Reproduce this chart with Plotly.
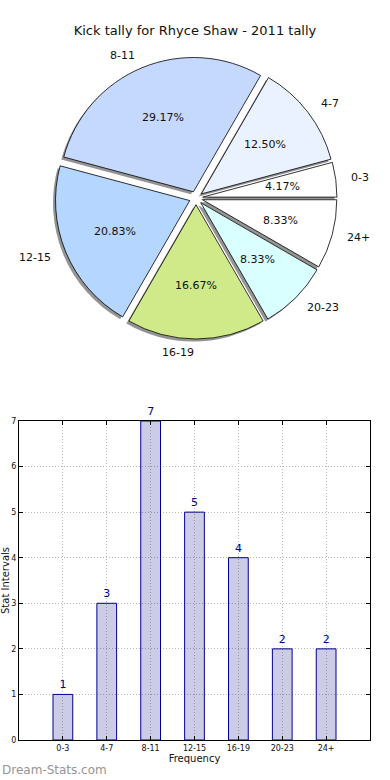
import math
import plotly.graph_objects as go

categories = ["0-3", "4-7", "8-11", "12-15", "16-19", "20-23", "24+"]
counts = [1, 3, 7, 5, 4, 2, 2]
slice_colors = ["#ffffff", "#eaf1ff", "#c5d9ff", "#b5d6ff", "#d0ea8a", "#d9ffff", "#ffffff"]
y_ticks = [0, 1, 2, 3, 4, 5, 6, 7]

W, H = 390, 780
ML, MR, MT, MB = 19, 20, 0, 40
PH = H - MT - MB
PW = W - ML - MR

def fy(px):  # pixel from top -> paper fraction
    return (PH - (px - MT)) / PH

def fx(px):
    return (px - ML) / PW

total = sum(counts)
# first slice starts at 3 o'clock and runs counterclockwise (plotly anchors the end of slice 1)
rot = 90 - 360 * counts[0] / total

pull = 0.05
cx, cy = 196, 198
half = 141
R = half / (1 + pull)
explode_px = pull * R
dom_x = [fx(cx - half), fx(cx + half)]
dom_y = [fy(cy + half), fy(cy - half)]
sdx, sdy = -2.5, 2.5
shadow_x = [fx(cx - half + sdx), fx(cx + half + sdx)]
shadow_y = [fy(cy + half + sdy), fy(cy - half + sdy)]

font = "DejaVu Sans, Verdana, sans-serif"
common = dict(labels=categories, values=counts, sort=False, direction="counterclockwise",
              rotation=rot, showlegend=False)

fig = go.Figure()

# shadow
fig.add_trace(go.Pie(
    **common, pull=[pull] * len(counts),
    marker=dict(colors=["rgba(60,60,60,0.55)"] * len(counts), line=dict(width=0)),
    textinfo="none", hoverinfo="skip",
    domain=dict(x=shadow_x, y=shadow_y),
))

# main pie
fig.add_trace(go.Pie(
    **common, pull=[pull] * len(counts),
    marker=dict(colors=slice_colors, line=dict(color="#000000", width=0.8)),
    textinfo="none",
    domain=dict(x=dom_x, y=dom_y),
))

# pie texts: percentage at 0.6 R, category label at 1.1 R (matplotlib style)
annotations = []
cum = 0
for cat, v in zip(categories, counts):
    theta = math.radians(360 * (cum + v / 2) / total)
    cum += v
    ex = cx + explode_px * math.cos(theta)
    ey = cy - explode_px * math.sin(theta)
    px = ex + 0.6 * R * math.cos(theta)
    py = ey - 0.6 * R * math.sin(theta)
    annotations.append(dict(
        text=f"{100 * v / total:.2f}%", xref="paper", yref="paper",
        x=fx(px), y=fy(py), xanchor="center", yanchor="middle", showarrow=False,
        font=dict(family=font, size=11, color="#111111"),
    ))
    lx = ex + 1.1 * R * math.cos(theta)
    ly = ey - 1.1 * R * math.sin(theta)
    annotations.append(dict(
        text=cat, xref="paper", yref="paper",
        x=fx(lx), y=fy(ly), xanchor="left" if lx - cx > 0 else "right", yanchor="middle",
        showarrow=False, font=dict(family=font, size=11, color="#111111"),
    ))

annotations.append(dict(
    text="Dream-Stats.com", xref="paper", yref="paper",
    x=fx(0), y=fy(770), xanchor="left", yanchor="middle", showarrow=False,
    font=dict(family=font, size=12, color="#959595"),
))

# bar chart
fig.add_trace(go.Bar(
    x=categories, y=counts, width=0.45,
    marker=dict(color="rgba(0,0,128,0.2)", line=dict(color="#00008b", width=1)),
    text=[str(c) for c in counts], textposition="outside", cliponaxis=False,
    textfont=dict(family=font, size=11, color="#00008b"),
    showlegend=False, hoverinfo="x+y",
))

fig.update_layout(
    width=W, height=H,
    margin=dict(l=ML, r=MR, t=MT, b=MB),
    paper_bgcolor="white", plot_bgcolor="white",
    font=dict(family=font, color="#111111"),
    title=dict(text="Kick tally for Rhyce Shaw - 2011 tally", x=0.5, xanchor="center",
               y=1 - 30 / H, yanchor="middle", yref="container",
               font=dict(family=font, size=13, color="#111111")),
    xaxis=dict(
        domain=[0, 1], range=[-1, 7], type="category",
        showline=True, linecolor="black", linewidth=1, mirror="ticks",
        ticks="inside", ticklen=4, tickcolor="black",
        showgrid=True, gridcolor="#b8b8b8", griddash="1px,2px", gridwidth=1,
        tickfont=dict(family=font, size=8, color="#111111"),
        title=dict(text="Frequency", font=dict(family=font, size=10, color="#111111"), standoff=2),
        zeroline=False, fixedrange=True,
    ),
    yaxis=dict(
        domain=[0, fy(421)], range=[0, 7],
        tickvals=y_ticks,
        showline=True, linecolor="black", linewidth=1, mirror="ticks",
        ticks="inside", ticklen=4, tickcolor="black",
        showgrid=True, gridcolor="#b8b8b8", griddash="1px,2px", gridwidth=1,
        tickfont=dict(family=font, size=8, color="#111111"),
        title=dict(text="Stat Intervals", font=dict(family=font, size=10, color="#111111"), standoff=0),
        zeroline=False, automargin=False, fixedrange=True,
    ),
    annotations=annotations,
)

fig.write_html("out.html", config={"displayModeBar": False},
               post_script="document.body.style.margin='0';")
